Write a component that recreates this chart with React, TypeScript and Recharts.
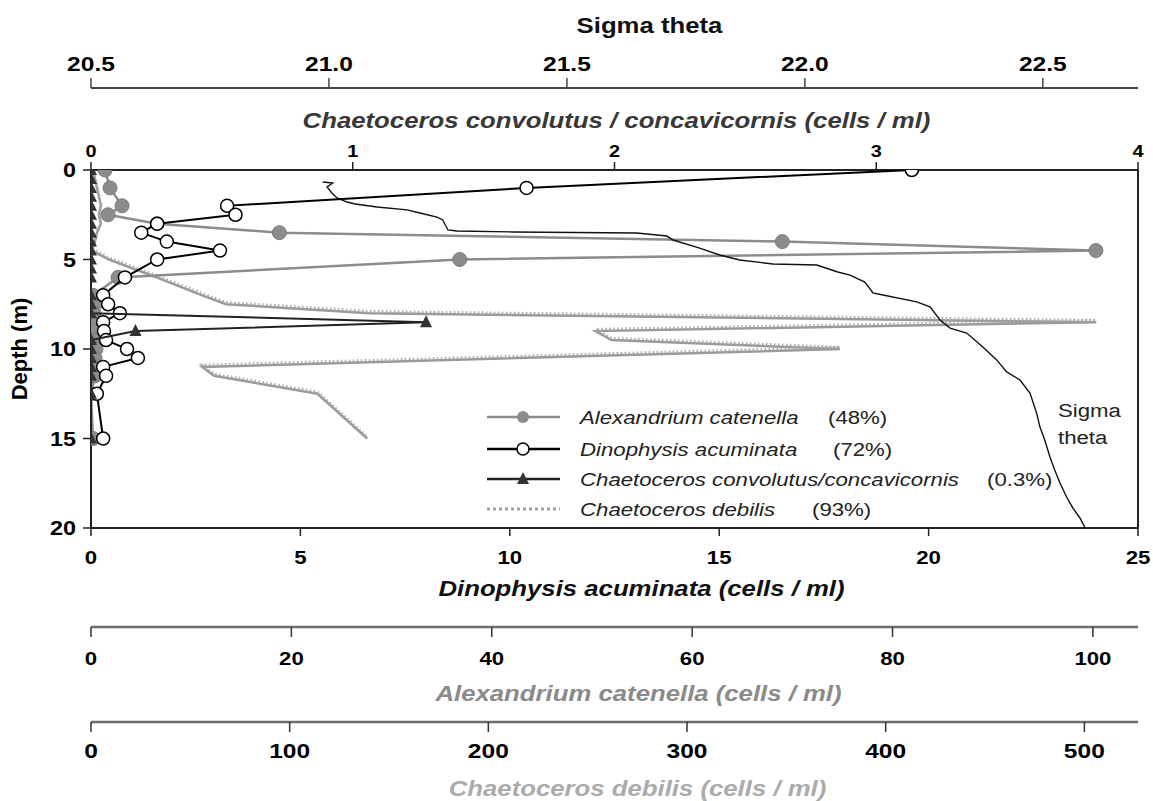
import React from 'react';
import { ScatterChart, Scatter, XAxis, YAxis, ReferenceLine, Legend } from 'recharts';

const FONT = "'Liberation Sans', Arial, Helvetica, sans-serif";
// the figure is drawn a little wider than tall, so text is stretched sideways
const SX = 1.17;

// sampling depths (m)
const depths = [0, 1, 2, 2.5, 3, 3.5, 4, 4.5, 5, 6, 7, 7.5, 8, 8.5, 9, 9.5, 10, 10.5, 11, 11.5, 12.5, 15];
const dinophysis = [19.6, 10.4, 3.25, 3.45, 1.58, 1.2, 1.81, 3.08, 1.58, 0.81, 0.29, 0.41, 0.69, 0.29, 0.31, 0.36, 0.86, 1.12, 0.29, 0.36, 0.14, 0.29];
const alexandrium = [1.4, 1.9, 3.1, 1.7, 6.6, 18.8, 69, 100.3, 36.8, 2.7, 0.2, 0.4, 0.3, 0.5, 0.4, 0.3, 0.5, 0.4, 0.3, 0.4, 0, 0.2];

const debDepths = [0, 1, 2, 2.5, 3, 3.5, 4, 4.5, 5, 6, 7, 7.5, 8, 8.5, 9, 9.5, 10, 11, 11.5, 12.5, 15];
const debilis = [1, 3, 5, 4, 5, 3, 2, 0.5, 9, 33, 56, 68, 140, 506, 254, 262, 377, 56, 62, 114, 139];

const convDepths = [0, 0.5, 1, 1.5, 2, 2.5, 3, 3.5, 4, 4.5, 5, 5.5, 6, 7, 7.5, 8, 8.5, 9, 9.5, 10, 10.5, 11, 11.5, 12.5, 15];
const convolutus = [0, 0, 0, 0, 0, 0, 0, 0, 0, 0, 0, 0, 0, 0, 0, 0, 1.28, 0.17, 0, 0, 0, 0, 0, 0, 0];

// CTD density profile
const sigmaDepth = [0.67, 0.73, 0.95, 1.28, 1.56, 1.79, 1.9, 2.07, 2.23, 2.4, 2.63, 2.79, 3.35, 3.41, 3.46, 3.52, 3.69, 3.91, 4.36, 4.75, 5.03, 5.25, 5.31, 5.7, 5.87, 6.26, 6.87, 6.98, 7.37, 7.65, 8.38, 8.83, 9.11, 9.89, 10.61, 11.28, 11.73, 12.46, 13.58, 14.36, 15.08, 16.03, 16.76, 17.49, 18.27, 18.88, 19.44, 19.94];
const sigma = [20.987, 21.008, 20.996, 21.006, 21.017, 21.038, 21.055, 21.101, 21.164, 21.191, 21.227, 21.239, 21.25, 21.269, 21.387, 21.647, 21.71, 21.723, 21.779, 21.821, 21.863, 21.933, 22.025, 22.069, 22.095, 22.126, 22.143, 22.164, 22.235, 22.263, 22.284, 22.305, 22.34, 22.374, 22.403, 22.424, 22.452, 22.473, 22.487, 22.494, 22.504, 22.515, 22.525, 22.536, 22.55, 22.563, 22.578, 22.588];

const sigmaTicks = [20.5, 21, 21.5, 22, 22.5];
const convTicks = [0, 1, 2, 3, 4];
const dinoTicks = [0, 5, 10, 15, 20, 25];
const alexTicks = [0, 20, 40, 60, 80, 100];
const debTicks = [0, 100, 200, 300, 400, 500];
const depthTicks = [0, 5, 10, 15, 20];

const legendNames = ['Alexandrium catenella', 'Dinophysis acuminata', 'Chaetoceros convolutus/concavicornis', 'Chaetoceros debilis'];
const legendPct = ['(48%)', '(72%)', '(0.3%)', '(93%)'];

const pts = (ds: number[], vs: number[]) => ds.map((d, i) => ({ d, x: vs[i] }));

function WText({ x, y, size, anchor = 'middle', weight = 'normal', italic = false, fill = '#000', children }: any) {
  return (
    <g transform={`translate(${x},${y})`}>
      <text
        transform={`scale(${SX},1)`}
        textAnchor={anchor}
        fontFamily={FONT}
        fontSize={size}
        fontWeight={weight}
        fontStyle={italic ? 'italic' : 'normal'}
        fill={fill}
      >
        {children}
      </text>
    </g>
  );
}

const tickAt = (dx: number, dy: number, size: number, anchor: string, fmt?: (v: number) => string) => (p: any) => (
  <WText x={p.x + dx} y={p.y + dy} size={size} anchor={anchor} weight="bold">
    {fmt ? fmt(p.payload.value) : String(p.payload.value)}
  </WText>
);

const titleAt = (text: string, dx: number, dy: number, size: number, fill: string, italic = true) => (p: any) => {
  const vb = p.viewBox;
  return (
    <WText x={vb.x + vb.width / 2 + dx} y={vb.y + dy} size={size} weight="bold" italic={italic} fill={fill}>
      {text}
    </WText>
  );
};

const depthTitle = (p: any) => {
  const vb = p.viewBox;
  return (
    <text
      transform={`translate(${vb.x + 27},${vb.y + vb.height / 2}) rotate(-90)`}
      textAnchor="middle"
      fontFamily={FONT}
      fontSize={22}
      fontWeight="bold"
    >
      Depth (m)
    </text>
  );
};

const GrayDot = (p: any) => <circle cx={p.cx} cy={p.cy} r={7} fill="#8c8c8c" stroke="#7a7a7a" strokeWidth={1} />;
const OpenDot = (p: any) => <circle cx={p.cx} cy={p.cy} r={6.5} fill="#fff" stroke="#000" strokeWidth={1.5} />;
const Tri = (p: any) => (
  <polygon points={`${p.cx},${p.cy - 7} ${p.cx - 6},${p.cy + 5} ${p.cx + 6},${p.cy + 5}`} fill="#333" />
);
const NoDot = () => <g />;

function LegendBox() {
  const rowY = [17, 49, 79, 109];
  const pctX = [348, 353, 507, 332];
  return (
    <svg width={640} height={125} style={{ overflow: 'visible' }}>
      <line x1={7} x2={80} y1={rowY[0]} y2={rowY[0]} stroke="#8c8c8c" strokeWidth={2.5} />
      <circle cx={43} cy={rowY[0]} r={6} fill="#8c8c8c" />
      <line x1={7} x2={80} y1={rowY[1]} y2={rowY[1]} stroke="#000" strokeWidth={2.5} />
      <circle cx={43} cy={rowY[1]} r={6} fill="#fff" stroke="#000" strokeWidth={1.5} />
      <line x1={7} x2={80} y1={rowY[2]} y2={rowY[2]} stroke="#222" strokeWidth={2.5} />
      <polygon points={`43,${rowY[2] - 7} 37,${rowY[2] + 5} 49,${rowY[2] + 5}`} fill="#333" />
      <line x1={7} x2={80} y1={rowY[3]} y2={rowY[3]} stroke="#a0a0a0" strokeWidth={3} strokeDasharray="3 3" />
      {legendNames.map((n, i) => (
        <WText key={n} x={100} y={rowY[i] + 7} size={19} anchor="start" italic fill="#222">
          {n}
        </WText>
      ))}
      {legendPct.map((t, i) => (
        <WText key={i} x={pctX[i]} y={rowY[i] + 7} size={19} anchor="start" fill="#222">
          {t}
        </WText>
      ))}
    </svg>
  );
}

export default function App() {
  return (
    <div style={{ position: 'absolute', left: 0, top: 0, background: '#fff' }}>
      <ScatterChart width={1153} height={801} margin={{ top: 8, right: 15, bottom: 0, left: 0 }}>
        <XAxis
          xAxisId="a_conv"
          orientation="top"
          type="number"
          dataKey="x"
          domain={[0, 4]}
          ticks={convTicks}
          interval={0}
          allowDataOverflow
          height={82}
          tickSize={8}
          tickMargin={0}
          axisLine={{ stroke: '#222', strokeWidth: 2 }}
          tickLine={{ stroke: '#222', strokeWidth: 1.5 }}
          tick={tickAt(0, -5, 17, 'middle')}
          label={titleAt('Chaetoceros convolutus / concavicornis (cells / ml)', 2, 40, 22, '#383838')}
        />
        <XAxis
          xAxisId="b_sig"
          orientation="top"
          type="number"
          dataKey="x"
          domain={[20.5, 22.7]}
          ticks={sigmaTicks}
          interval={0}
          allowDataOverflow
          height={80}
          tickSize={10}
          tickMargin={0}
          axisLine={{ stroke: '#444', strokeWidth: 2 }}
          tickLine={{ stroke: '#444', strokeWidth: 1.5 }}
          tick={tickAt(0, -7, 21, 'middle', v => v.toFixed(1))}
          label={titleAt('Sigma theta', 35, 25, 22, '#111', false)}
        />
        <XAxis
          xAxisId="a_dino"
          orientation="bottom"
          type="number"
          dataKey="x"
          domain={[0, 25]}
          ticks={dinoTicks}
          interval={0}
          allowDataOverflow
          height={99}
          tickSize={8}
          tickMargin={0}
          axisLine={{ stroke: '#222', strokeWidth: 2 }}
          tickLine={{ stroke: '#222', strokeWidth: 1.5 }}
          tick={tickAt(0, 28, 19, 'middle')}
          label={titleAt('Dinophysis acuminata (cells / ml)', 27, 68, 22, '#111')}
        />
        <XAxis
          xAxisId="b_alex"
          orientation="bottom"
          type="number"
          dataKey="x"
          domain={[0, 104.5]}
          ticks={alexTicks}
          interval={0}
          allowDataOverflow
          height={95}
          tickSize={10}
          tickMargin={0}
          axisLine={{ stroke: '#6e6e6e', strokeWidth: 2.5 }}
          tickLine={{ stroke: '#333', strokeWidth: 1.5 }}
          tick={tickAt(0, 28, 19, 'middle')}
          label={titleAt('Alexandrium catenella (cells / ml)', 24, 74, 22, '#8a8a8a')}
        />
        <XAxis
          xAxisId="c_deb"
          orientation="bottom"
          type="number"
          dataKey="x"
          domain={[0, 527]}
          ticks={debTicks}
          interval={0}
          allowDataOverflow
          height={79}
          tickSize={10}
          tickMargin={0}
          axisLine={{ stroke: '#6e6e6e', strokeWidth: 2.5 }}
          tickLine={{ stroke: '#333', strokeWidth: 1.5 }}
          tick={tickAt(0, 26, 21, 'middle')}
          label={titleAt('Chaetoceros debilis (cells / ml)', 23, 74, 22, '#ababab')}
        />
        <YAxis
          type="number"
          dataKey="d"
          reversed
          domain={[0, 20]}
          ticks={depthTicks}
          interval={0}
          allowDataOverflow
          width={91}
          tickSize={8}
          tickMargin={0}
          axisLine={{ stroke: '#222', strokeWidth: 2 }}
          tickLine={{ stroke: '#222', strokeWidth: 1.5 }}
          tick={tickAt(-7, 7, 20, 'end')}
          label={depthTitle}
        />
        <ReferenceLine xAxisId="a_conv" x={4} stroke="#222" strokeWidth={2} />

        <Scatter
          name="Chaetoceros debilis"
          xAxisId="c_deb"
          data={pts(debDepths, debilis)}
          fill="#9a9a9a"
          line={{ stroke: '#9a9a9a', strokeWidth: 2.5 }}
          shape={NoDot}
          isAnimationActive={false}
        />
        <Scatter
          name="Chaetoceros debilis dots"
          xAxisId="c_deb"
          data={pts(debDepths, debilis)}
          fill="#ababab"
          line={{ stroke: '#ababab', strokeWidth: 2.5, strokeDasharray: '1.5 2.5', transform: 'translate(0,-2)' }}
          shape={NoDot}
          isAnimationActive={false}
        />
        <Scatter
          name="Alexandrium catenella"
          xAxisId="b_alex"
          data={pts(depths, alexandrium)}
          fill="#8c8c8c"
          line={{ stroke: '#8c8c8c', strokeWidth: 2.5 }}
          shape={GrayDot}
          isAnimationActive={false}
        />
        <Scatter
          name="Sigma theta"
          xAxisId="b_sig"
          data={pts(sigmaDepth, sigma)}
          fill="#111"
          line={{ stroke: '#111', strokeWidth: 1.4 }}
          shape={NoDot}
          isAnimationActive={false}
        />
        <Scatter
          name="Dinophysis acuminata"
          xAxisId="a_dino"
          data={pts(depths, dinophysis)}
          fill="#000"
          line={{ stroke: '#000', strokeWidth: 2 }}
          shape={OpenDot}
          isAnimationActive={false}
        />
        <Scatter
          name="Chaetoceros convolutus/concavicornis"
          xAxisId="a_conv"
          data={pts(convDepths, convolutus)}
          fill="#222"
          line={{ stroke: '#222', strokeWidth: 2 }}
          shape={Tri}
          isAnimationActive={false}
        />

        <Legend
          content={LegendBox}
          layout="horizontal"
          verticalAlign="middle"
          align="center"
          wrapperStyle={{ left: 480, top: 400, width: 640, height: 125 }}
        />
        <WText x={1058} y={417} size={19} anchor="start" fill="#222">Sigma</WText>
        <WText x={1058} y={444} size={19} anchor="start" fill="#222">theta</WText>
      </ScatterChart>
    </div>
  );
}
